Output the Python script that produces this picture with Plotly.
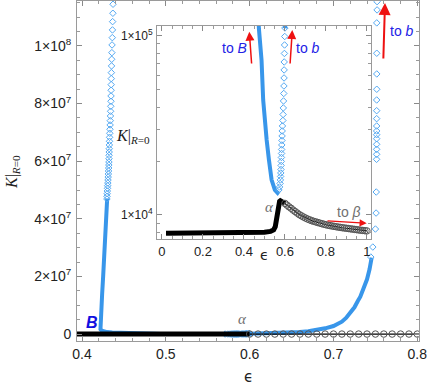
import plotly.graph_objects as go

# ---------------- data ----------------
# blue branch, upper sparse part of the vertical branch near B (main plot)
eps_left_sparse = [0.4370, 0.4368, 0.4365, 0.4363, 0.4361, 0.4358, 0.4356, 0.4354, 0.4352, 0.4350,
                   0.4349, 0.4348, 0.4347, 0.4346, 0.4345, 0.4343, 0.4341, 0.4339, 0.4337, 0.4335,
                   0.4333, 0.4331, 0.4329, 0.4328, 0.4326, 0.4325, 0.4324, 0.4323, 0.4322, 0.4321,
                   0.4320, 0.4318, 0.4316, 0.4314, 0.4312, 0.4310, 0.4308, 0.4306, 0.4304, 0.4302,
                   0.4300, 0.4298, 0.4297]
K_left_sparse = [1.1448e8, 1.1135e8, 1.0844e8, 1.0556e8, 1.0288e8, 1.0035e8, 0.9767e8, 0.9538e8, 0.9306e8, 0.9073e8,
                 0.8865e8, 0.8656e8, 0.8462e8, 0.8264e8, 0.8080e8, 0.7906e8, 0.7733e8, 0.7569e8, 0.7406e8, 0.7257e8,
                 0.7108e8, 0.6969e8, 0.6830e8, 0.6691e8, 0.6563e8, 0.6434e8, 0.6319e8, 0.6205e8, 0.6087e8, 0.5972e8,
                 0.5868e8, 0.5764e8, 0.5660e8, 0.5556e8, 0.5451e8, 0.5347e8, 0.5243e8, 0.5149e8, 0.5059e8, 0.4965e8,
                 0.4872e8, 0.4781e8, 0.4688e8]

# blue branch, dense part: down through B, along small K, down to the minimum of the inset U
eps_left_dense = [0.4300, 0.4290, 0.4275, 0.4262, 0.4252, 0.4240, 0.4228, 0.4220, 0.4215, 0.4214,
                  0.4220, 0.4235, 0.4260, 0.4300, 0.4360, 0.4440, 0.4520, 0.4600, 0.4670, 0.4730,
                  0.4780, 0.4860, 0.4940, 0.5020, 0.5110, 0.5220, 0.5350, 0.5510, 0.5640, 0.5700]
K_left_dense = [4.7e7, 4.0e7, 3.3e7, 2.6e7, 2.0e7, 1.4e7, 9.0e6, 6.0e6, 4.0e6, 2.6e6,
                1.7e6, 1.2e6, 9.0e5, 7.0e5, 5.5e5, 4.2e5, 3.2e5, 2.4e5, 1.7e5, 1.1e5,
                9.46e4, 7.31e4, 4.38e4, 3.18e4, 2.62e4, 2.03e4, 1.57e4, 1.38e4, 1.33e4, 1.36e4]

# blue branch, sparse rising side of the inset U
eps_u_right = [0.5707, 0.5740, 0.5765, 0.5780, 0.5790, 0.5800, 0.5808, 0.5815, 0.5822, 0.5830,
               0.5837, 0.5841, 0.5848, 0.5855, 0.5862, 0.5868, 0.5880, 0.5900, 0.5912, 0.5922,
               0.5932, 0.5944, 0.5952, 0.5958, 0.5962, 0.5966, 0.5975, 0.5983, 0.5992, 0.6000]
K_u_right = [13790, 14330, 14990, 15680, 16395, 17150, 17940, 18890, 19890, 20930,
             22030, 23190, 24570, 26030, 27580, 29410, 31360, 33650, 36350, 39530,
             43240, 47610, 52420, 58100, 64400, 71340, 79590, 88750, 98970, 110400]

# blue branch, dense rise towards b (main plot)
eps_right_dense = [0.600, 0.610, 0.620, 0.630, 0.640, 0.650, 0.660, 0.670, 0.680, 0.690,
                   0.700, 0.705, 0.710, 0.715, 0.720, 0.725, 0.729, 0.732, 0.736, 0.740,
                   0.743, 0.7445, 0.7455]
K_right_dense = [1.1e5, 1.6e5, 2.1e5, 2.8e5, 3.7e5, 5.0e5, 7.0e5, 1.0e6, 1.4e6, 2.0e6,
                 2.8e6, 3.4e6, 4.3e6, 5.6e6, 7.3e6, 9.3e6, 1.15e7, 1.3e7, 1.6e7, 1.9e7,
                 2.25e7, 2.5e7, 2.65e7]

# blue branch, nearly vertical column towards b
eps_column = [0.7445, 0.7469, 0.7500, 0.7508, 0.7510, 0.7514, 0.7515, 0.7515, 0.7515, 0.7515,
              0.7515, 0.7515, 0.7515, 0.7515, 0.7515, 0.7515, 0.7516, 0.7516, 0.7516, 0.7516,
              0.7520, 0.7520]
K_column = [0.2674e8, 0.3021e8, 0.3646e8, 0.4201e8, 0.4931e8, 0.6066e8, 0.6240e8, 0.6413e8, 0.6587e8, 0.6781e8,
            0.6920e8, 0.7049e8, 0.7222e8, 0.7476e8, 0.7753e8, 0.8125e8, 0.8497e8, 0.9028e8, 0.9747e8, 1.0800e8,
            1.1250e8, 1.1538e8]

# black branch (alpha), dense part
eps_black_dense = [0.02, 0.10, 0.20, 0.30, 0.40, 0.45, 0.50, 0.53, 0.545, 0.553,
                   0.558, 0.562, 0.566, 0.570, 0.574, 0.578, 0.583, 0.590, 0.600]
K_black_dense = [7900, 7900, 7900, 7900, 7920, 7960, 8020, 8100, 8250, 8600,
                 9300, 10200, 11000, 11600, 11900, 12000, 11900, 11750, 11600]

# black branch, sparse part towards beta
eps_black_sparse = [0.60, 0.61, 0.62, 0.63, 0.64, 0.65, 0.66, 0.67, 0.68, 0.69,
                    0.70, 0.71, 0.72, 0.73, 0.74, 0.75, 0.76, 0.77, 0.78, 0.79,
                    0.80, 0.81, 0.82, 0.83, 0.84, 0.85, 0.86, 0.87, 0.88, 0.89,
                    0.90, 0.91, 0.92, 0.93, 0.94, 0.95, 0.96, 0.97, 0.98, 0.99, 1.00]
K_black_sparse = [11600, 11350, 11100, 10900, 10650, 10450, 10250, 10050, 9900, 9750,
                  9620, 9500, 9400, 9300, 9220, 9150, 9080, 9010, 8940, 8880,
                  8820, 8770, 8720, 8680, 8640, 8600, 8560, 8530, 8490, 8460,
                  8430, 8400, 8370, 8340, 8310, 8280, 8250, 8220, 8200, 8170, 8150]

main_y_ticks = [0, 2e7, 4e7, 6e7, 8e7, 1e8]
main_y_labels = ["0", "2×10<sup>7</sup>", "4×10<sup>7</sup>", "6×10<sup>7</sup>",
                 "8×10<sup>7</sup>", "1×10<sup>8</sup>"]
inset_y_ticks = [1e4, 1e5]
inset_y_labels = ["1×10<sup>4</sup>", "1×10<sup>5</sup>"]
inset_y_minor = [8e3, 9e3, 2e4, 3e4, 4e4, 5e4, 6e4, 7e4, 8e4, 9e4]

# ---------------- styling ----------------
W, H = 428, 390
ML, MR, MT, MB = 77, 9, 1, 49
PW, PH = W - ML - MR, H - MT - MB


def paper(x, y):
    return (x - ML) / PW, (H - MB - y) / PH


DIAM = "#55A9F2"
DENSE = "#3896EA"
BLUE_TXT = "#2222E6"
GRAY_TXT = "#707070"

fig = go.Figure()


def add_all(xa, ya):
    kw = dict(xaxis=xa, yaxis=ya, showlegend=False, hoverinfo="skip")
    fig.add_trace(go.Scatter(x=eps_left_dense, y=K_left_dense, mode="lines",
                             line=dict(color=DENSE, width=4), **kw))
    fig.add_trace(go.Scatter(x=eps_left_sparse, y=K_left_sparse, mode="markers",
                             marker=dict(symbol="diamond-open", size=5, color=DIAM,
                                         line=dict(width=1, color=DIAM)), **kw))
    fig.add_trace(go.Scatter(x=eps_u_right, y=K_u_right, mode="markers",
                             marker=dict(symbol="diamond-open", size=5, color=DIAM,
                                         line=dict(width=1, color=DIAM)), **kw))
    fig.add_trace(go.Scatter(x=eps_right_dense, y=K_right_dense, mode="lines",
                             line=dict(color=DENSE, width=4), **kw))
    fig.add_trace(go.Scatter(x=eps_column, y=K_column, mode="markers",
                             marker=dict(symbol="diamond-open", size=5, color=DIAM,
                                         line=dict(width=1, color=DIAM)), **kw))
    fig.add_trace(go.Scatter(x=eps_black_dense, y=K_black_dense, mode="lines",
                             line=dict(color="black", width=5), **kw))
    fig.add_trace(go.Scatter(x=eps_black_sparse, y=K_black_sparse, mode="lines+markers",
                             line=dict(color="black", width=1.2),
                             marker=dict(symbol="circle-open", size=6.5, color="#555",
                                         line=dict(width=1, color="#555")), **kw))


add_all("x", "y")
add_all("x2", "y2")

axis_common = dict(showline=True, linecolor="#9a9a9a", linewidth=1, mirror="allticks",
                   ticks="inside", ticklen=5, tickwidth=1, tickcolor="#8a8a8a",
                   showgrid=False, zeroline=False,
                   tickfont=dict(family="Liberation Sans", size=14, color="#222"))
minor_common = dict(ticks="inside", ticklen=3, tickwidth=1, tickcolor="#9a9a9a", showgrid=False)

fig.update_layout(
    width=W, height=H, margin=dict(l=ML, r=MR, t=MT, b=MB),
    paper_bgcolor="white", plot_bgcolor="white",
    xaxis=dict(domain=[0, 1], range=[0.394, 0.802], tick0=0.4, dtick=0.1, tickformat=".1f",
               minor=dict(tick0=0.4, dtick=0.02, **minor_common), **axis_common),
    yaxis=dict(domain=[0, 1], range=[-2.4e6, 1.156e8], tickmode="array",
               tickvals=main_y_ticks, ticktext=main_y_labels, ticklabelstandoff=2,
               minor=dict(tick0=0, dtick=5e6, **minor_common), **axis_common),
    xaxis2=dict(domain=[(157 - ML) / PW, (371 - ML) / PW], anchor="y2",
                range=[-0.024, 1.02], tick0=0, dtick=0.2,
                minor=dict(tick0=0, dtick=0.05, **minor_common),
                **{**axis_common, "tickfont": dict(family="Liberation Sans", size=13, color="#222")}),
    yaxis2=dict(domain=[(H - MB - 239) / PH, (H - MB - 26) / PH], anchor="x2", type="log",
                range=[3.866, 5.054], tickmode="array", tickvals=inset_y_ticks,
                ticktext=inset_y_labels, ticklabelstandoff=1,
                minor=dict(tickmode="array", tickvals=inset_y_minor, **minor_common),
                **{**axis_common, "tickfont": dict(family="Liberation Sans", size=12, color="#222")}),
)

ann = []


def text(x, y, s, size=14, color="black", family="Liberation Sans", angle=0):
    px_, py_ = paper(x, y)
    ann.append(dict(x=px_, y=py_, xref="paper", yref="paper", text=s, showarrow=False,
                    xanchor="center", yanchor="middle", textangle=angle,
                    font=dict(size=size, color=color, family=family)))


def arrow(tx, ty, hx, hy, width=1.5, size=1.2):
    px_, py_ = paper(hx, hy)
    ann.append(dict(x=px_, y=py_, xref="paper", yref="paper", text="", showarrow=True,
                    ax=tx - hx, ay=ty - hy, axref="pixel", ayref="pixel",
                    arrowhead=2, arrowsize=size, arrowwidth=width, arrowcolor="#ee1111"))


text(248, 377, "ϵ", 15, "#222", "DejaVu Sans")
text(12, 172, "<i>K</i>|<sub><i>R</i>=0</sub>", 16, "#222", "Liberation Serif", -90)
text(133, 136, "<i>K</i>|<sub><i>R</i>=0</sub>", 16, "#222", "Liberation Serif")
text(264, 255, "ϵ", 14, "#222", "DejaVu Sans")

text(234, 48, "to <i>B</i>", 14, BLUE_TXT)
text(308, 48, "to <i>b</i>", 14, BLUE_TXT)
text(402, 31, "to <i>b</i>", 14, BLUE_TXT)
text(349, 212, "to <i>β</i>", 14, GRAY_TXT)
text(269, 207, "<i>α</i>", 15, GRAY_TXT, "Liberation Serif")
text(242.5, 319, "<i>α</i>", 15, GRAY_TXT, "Liberation Serif")
text(92, 322, "<b><i>B</i></b>", 16, "#1010E0")

arrow(251.7, 65, 249.3, 31.7, 1.5, 1.2)
arrow(290, 65, 292.3, 30, 1.5, 1.2)
arrow(383.3, 60, 385, 3, 2, 1.2)
arrow(326, 220.7, 366.7, 223.3, 1.3, 1.1)

fig.update_layout(annotations=ann)

fig.write_html("out.html", config={"displayModeBar": False},
               post_script="document.body.style.margin='0';document.body.style.padding='0';")
